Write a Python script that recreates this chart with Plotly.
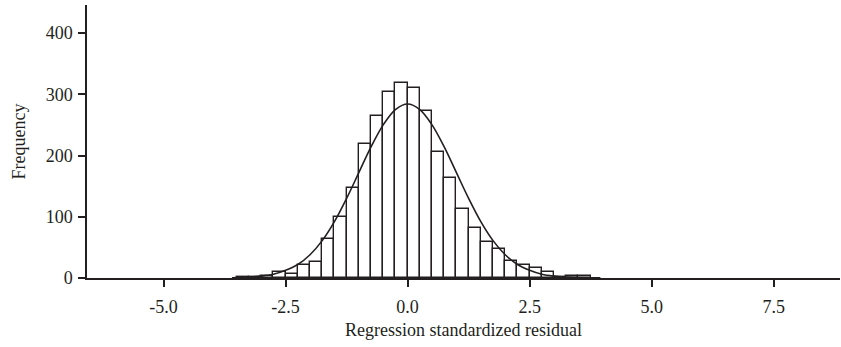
import plotly.graph_objects as go

# Histogram data (bin left edges, width 0.25)
bin_start = [-3.5, -3.25, -3.0, -2.75, -2.5, -2.25, -2.0, -1.75, -1.5, -1.25,
             -1.0, -0.75, -0.5, -0.25, 0.0, 0.25, 0.5, 0.75, 1.0, 1.25,
             1.5, 1.75, 2.0, 2.25, 2.5, 2.75, 3.0, 3.25, 3.5]
counts = [1, 2, 4, 9, 6, 21, 26, 64, 100, 147,
          218, 265, 303, 318, 310, 273, 206, 164, 112, 82,
          58, 47, 28, 21, 16, 9, 2, 3, 4]
bin_width = 0.25

# Normal curve overlay
curve_x = [-3.6, -3.25, -3.0, -2.75, -2.5, -2.25, -2.0, -1.75, -1.5, -1.25,
           -1.0, -0.75, -0.5, -0.25, 0.0, 0.25, 0.5, 0.75, 1.0, 1.25,
           1.5, 1.75, 2.0, 2.25, 2.5, 2.75, 3.0, 3.25, 3.5, 3.75, 3.95]
curve_y = [0.5, 1.5, 3, 6, 12.5, 22, 38, 61, 92, 130,
           172, 214, 250, 275, 284, 275, 250, 214, 172, 130,
           92, 61, 38, 22, 12.5, 6, 3, 1.5, 0.6, 0.3, 0.2]

x_tickvals = [-5.0, -2.5, 0.0, 2.5, 5.0, 7.5]
x_ticktext = ["-5.0", "-2.5", "0.0", "2.5", "5.0", "7.5"]
y_tickvals = [0, 100, 200, 300, 400]

ink = "#231f20"
font = dict(family="Liberation Serif, Times New Roman, serif", size=18, color=ink)

fig = go.Figure()
fig.add_trace(go.Bar(
    x=bin_start, y=counts, width=bin_width, offset=0,
    marker=dict(color="white", line=dict(color=ink, width=1.4)),
    showlegend=False, hoverinfo="x+y",
))
fig.add_trace(go.Scatter(
    x=curve_x, y=curve_y, mode="lines", line=dict(color=ink, width=1.6, shape="spline"),
    showlegend=False,
))

fig.update_layout(
    width=841, height=347,
    margin=dict(l=87, r=1, t=5, b=69),
    paper_bgcolor="white", plot_bgcolor="white",
    font=font, bargap=0,
    xaxis=dict(
        range=[-6.57, 8.86], showgrid=False, zeroline=False, automargin=False,
        showline=True, linecolor=ink, linewidth=1.5,
        ticks="outside", ticklen=7, tickwidth=1.5, tickcolor=ink,
        tickvals=x_tickvals, ticktext=x_ticktext, ticklabelstandoff=5,
        title=dict(text="Regression standardized residual", font=font, standoff=7),
    ),
    yaxis=dict(
        range=[0, 445.7], showgrid=False, zeroline=False, automargin=False,
        showline=True, linecolor=ink, linewidth=1.5,
        ticks="outside", ticklen=7, tickwidth=1.5, tickcolor=ink,
        tickvals=y_tickvals, ticklabelstandoff=2,
        title=dict(text="Frequency", font=font, standoff=15),
    ),
)

fig.write_html(
    "out.html",
    config={"displayModeBar": False},
    post_script="document.body.style.margin='0';document.body.style.overflow='hidden';",
)
